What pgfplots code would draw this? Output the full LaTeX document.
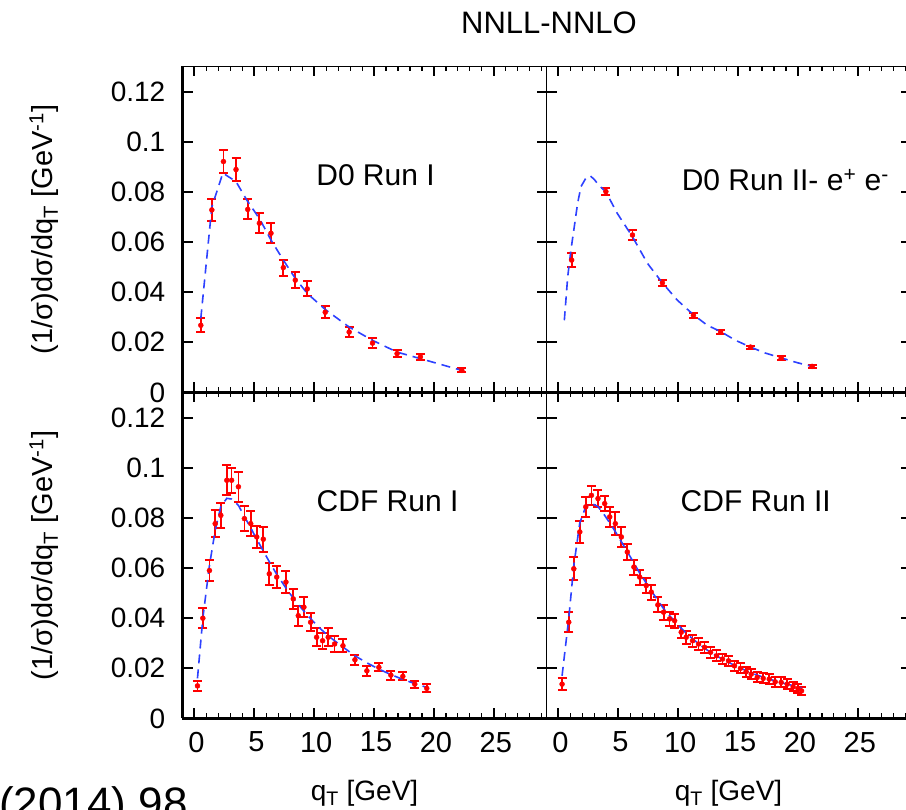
\documentclass[border=0pt]{standalone}
\usepackage{fontspec}
\setmainfont{Liberation Sans}
\usepackage{pgfplots}
\pgfplotsset{compat=1.18}
\usepackage{pgfplotstable}

\definecolor{dataRed}{RGB}{255,0,0}
\definecolor{curveBlue}{RGB}{45,65,255}

% ---------------- D0 Run I ----------------
\pgfplotstableread{
x y e
0.53 0.0268 0.0028
1.45 0.0728 0.0044
2.42 0.0921 0.0046
3.47 0.0889 0.0047
4.45 0.0730 0.0040
5.42 0.0675 0.0040
6.39 0.0635 0.0040
7.42 0.0498 0.0032
8.42 0.0448 0.0032
9.42 0.0413 0.0030
10.92 0.0320 0.0023
12.92 0.0241 0.0020
14.87 0.0197 0.0020
16.92 0.0155 0.0015
18.87 0.0142 0.0012
22.33 0.0088 0.0008
}\dzeroIdata
\pgfplotstableread{
x y
0.53 0.0296
1.45 0.0740
2.37 0.0875
3.47 0.0841
4.36 0.0768
5.47 0.0690
6.39 0.0608
7.42 0.0528
8.42 0.0455
9.42 0.0395
10.92 0.0331
12.92 0.0261
14.87 0.0208
16.92 0.0161
18.87 0.0135
22.33 0.0088
}\dzeroIth

% ---------------- D0 Run II e+e- ----------------
\pgfplotstableread{
x y e
1.10 0.0528 0.0027
3.96 0.0801 0.0013
6.18 0.0628 0.0020
8.68 0.0437 0.0012
11.27 0.0308 0.0010
13.54 0.0241 0.0007
16.04 0.0181 0.0006
18.60 0.0137 0.0007
21.18 0.0104 0.0005
}\dzeroIIdata
\pgfplotstableread{
x y
0.49 0.0288
0.77 0.0461
1.04 0.0568
1.32 0.0661
1.60 0.0755
1.88 0.0821
2.29 0.0855
2.65 0.0864
2.98 0.0850
3.40 0.0825
3.96 0.0800
4.90 0.0715
6.18 0.0621
7.43 0.0515
8.68 0.0437
9.93 0.0368
11.27 0.0310
12.43 0.0268
13.54 0.0243
14.79 0.0208
16.04 0.0181
17.29 0.0157
18.60 0.0138
19.93 0.0119
21.18 0.0104
}\dzeroIIth

% ---------------- CDF Run I ----------------
\pgfplotstableread{
x y e
0.25 0.0130 0.0020
0.70 0.0400 0.0040
1.25 0.0590 0.0043
1.73 0.0777 0.0055
2.20 0.0810 0.0050
2.70 0.0950 0.0060
3.10 0.0950 0.0050
3.67 0.0924 0.0060
4.17 0.0797 0.0050
4.70 0.0777 0.0050
5.20 0.0724 0.0045
5.75 0.0715 0.0050
6.25 0.0577 0.0045
6.87 0.0564 0.0045
7.64 0.0544 0.0045
8.25 0.0477 0.0040
8.67 0.0410 0.0040
9.14 0.0444 0.0040
9.70 0.0384 0.0035
10.20 0.0324 0.0035
10.70 0.0310 0.0032
11.17 0.0324 0.0035
11.70 0.0297 0.0030
12.40 0.0290 0.0025
13.40 0.0234 0.0020
14.40 0.0190 0.0020
15.40 0.0204 0.0016
16.40 0.0173 0.0018
17.40 0.0168 0.0016
18.40 0.0137 0.0014
19.40 0.0120 0.0016
}\cdfIdata
\pgfplotstableread{
x y
0.25 0.0160
0.70 0.0400
1.25 0.0610
1.73 0.0750
2.20 0.0845
2.70 0.0878
3.10 0.0875
3.67 0.0850
4.17 0.0805
4.70 0.0760
5.20 0.0715
5.75 0.0668
6.25 0.0625
6.87 0.0575
7.64 0.0520
8.25 0.0480
8.67 0.0455
9.14 0.0428
9.70 0.0398
10.20 0.0373
10.70 0.0350
11.17 0.0330
11.70 0.0310
12.40 0.0285
13.40 0.0250
14.40 0.0222
15.40 0.0197
16.40 0.0175
17.40 0.0156
18.40 0.0139
19.40 0.0124
}\cdfIth

% ---------------- CDF Run II ----------------
\pgfplotstableread{
x y e
0.30 0.0137 0.0025
0.86 0.0384 0.0040
1.28 0.0597 0.0045
1.78 0.0744 0.0045
2.28 0.0844 0.0040
2.75 0.0890 0.0037
3.30 0.0877 0.0035
3.86 0.0857 0.0030
4.28 0.0804 0.0040
4.75 0.0777 0.0045
5.25 0.0724 0.0040
5.75 0.0664 0.0030
6.30 0.0604 0.0030
6.78 0.0564 0.0030
7.33 0.0530 0.0030
7.75 0.0504 0.0030
8.30 0.0453 0.0030
8.78 0.0424 0.0030
9.28 0.0397 0.0028
9.70 0.0390 0.0028
10.25 0.0344 0.0025
10.67 0.0324 0.0025
11.20 0.0310 0.0024
11.70 0.0297 0.0022
12.20 0.0284 0.0022
12.70 0.0264 0.0022
13.20 0.0250 0.0022
13.70 0.0237 0.0021
14.20 0.0230 0.0021
14.70 0.0210 0.0020
15.20 0.0200 0.0020
15.67 0.0186 0.0020
16.10 0.0177 0.0020
16.60 0.0164 0.0020
17.10 0.0160 0.0020
17.60 0.0157 0.0020
18.10 0.0146 0.0020
18.60 0.0144 0.0020
19.10 0.0137 0.0020
19.60 0.0126 0.0018
20.00 0.0120 0.0018
20.30 0.0110 0.0016
}\cdfIIdata
\pgfplotstableread{
x y
0.30 0.0170
0.86 0.0400
1.28 0.0610
1.78 0.0780
2.28 0.0845
2.75 0.0858
3.30 0.0845
3.86 0.0810
4.28 0.0780
4.75 0.0745
5.25 0.0705
5.75 0.0665
6.30 0.0620
6.78 0.0580
7.33 0.0540
7.75 0.0510
8.30 0.0470
8.78 0.0438
9.28 0.0410
9.70 0.0388
10.25 0.0360
10.67 0.0340
11.20 0.0318
11.70 0.0298
12.20 0.0280
12.70 0.0264
13.20 0.0250
13.70 0.0236
14.20 0.0224
14.70 0.0212
15.20 0.0201
15.67 0.0191
16.10 0.0182
16.60 0.0173
17.10 0.0165
17.60 0.0157
18.10 0.0150
18.60 0.0143
19.10 0.0137
19.60 0.0131
20.00 0.0126
20.30 0.0122
}\cdfIIth

\pgfplotsset{
  panel/.style={
    scale only axis, width=364pt, height=326pt,
    xmin=-1, xmax=29.4, ymin=0, ymax=0.13,
    xtick={0,5,...,25}, minor xtick={0,1,...,29},
    ytick={0,0.02,0.04,0.06,0.08,0.1,0.12},
    tick align=inside,
    major tick length=10pt, minor tick length=5pt,
    major tick style={line width=2pt, black},
    minor tick style={line width=1.2pt, black},
    axis line style={line width=1.2pt},
    scaled y ticks=false, scaled x ticks=false,
    /pgf/number format/assume math mode=true,
    yticklabel style={/pgf/number format/fixed, font=\fontsize{28pt}{31pt}\selectfont, inner sep=1pt, xshift=-16pt},
    xticklabel style={font=\fontsize{29pt}{32pt}\selectfont, yshift=-10pt, xshift=2pt},
    clip=false,
  },
  data/.style={only marks, mark=*, mark size=2.5pt, color=dataRed,
    mark options={fill=dataRed, draw=dataRed, solid},
    error bars/.cd, y dir=both, y explicit,
    error bar style={line width=1.8pt, color=dataRed, solid},
    error mark options={rotate=90, mark size=4.5pt, line width=2pt, color=dataRed, solid}},
  theory/.style={no marks, color=curveBlue, line width=1.6pt, dash pattern=on 9pt off 6pt},
}
\tikzset{lab/.style={anchor=west, font=\fontsize{30pt}{34pt}\selectfont}}

\begin{document}
\begin{tikzpicture}
\useasboundingbox (0pt,0pt) rectangle (906pt,810pt);

% top left
\begin{axis}[panel, at={(182.5pt,417.5pt)}, anchor=south west, xticklabels={}]
  \addplot[data] table[x=x, y=y, y error=e] {\dzeroIdata};
  \addplot[theory] table[x=x, y=y] {\dzeroIth};
  \node[lab] at (rel axis cs:0.358,0.668) {D0 Run I};
  \draw[line width=2.6pt] (rel axis cs:0,0) -- (rel axis cs:0,1);
  \draw[line width=2.6pt] (rel axis cs:0,0) -- (rel axis cs:1,0);
\end{axis}

% top right
\begin{axis}[panel, at={(546.5pt,417.5pt)}, anchor=south west, xticklabels={}, yticklabels={}]
  \addplot[data] table[x=x, y=y, y error=e] {\dzeroIIdata};
  \addplot[theory] table[x=x, y=y] {\dzeroIIth};
  \node[lab] at (rel axis cs:0.362,0.652) {D0 Run II- e\textsuperscript{+} e\textsuperscript{-}};
  \draw[line width=2.6pt] (rel axis cs:0,0) -- (rel axis cs:1,0);
\end{axis}

% bottom left
\begin{axis}[panel, at={(182.5pt,91.5pt)}, anchor=south west]
  \addplot[data] table[x=x, y=y, y error=e] {\cdfIdata};
  \addplot[theory] table[x=x, y=y] {\cdfIth};
  \node[lab] at (rel axis cs:0.359,0.667) {CDF Run I};
  \draw[line width=2.6pt] (rel axis cs:0,0) -- (rel axis cs:0,1);
  \draw[line width=2.6pt] (rel axis cs:0,0) -- (rel axis cs:1,0);
\end{axis}

% bottom right
\begin{axis}[panel, at={(546.5pt,91.5pt)}, anchor=south west, yticklabels={}]
  \addplot[data] table[x=x, y=y, y error=e] {\cdfIIdata};
  \addplot[theory] table[x=x, y=y] {\cdfIIth};
  \node[lab] at (rel axis cs:0.359,0.667) {CDF Run II};
  \draw[line width=2.6pt] (rel axis cs:0,0) -- (rel axis cs:1,0);
\end{axis}

% title and labels
\node[font=\fontsize{31pt}{35pt}\selectfont] at (549pt,787.5pt) {NNLL-NNLO};
\node[rotate=90, font=\fontsize{29pt}{33pt}\selectfont] at (44pt,580.5pt) {(1/σ)dσ/dq\textsubscript{T} [GeV\textsuperscript{-1}]};
\node[rotate=90, font=\fontsize{29pt}{33pt}\selectfont] at (44pt,254.5pt) {(1/σ)dσ/dq\textsubscript{T} [GeV\textsuperscript{-1}]};
\node[anchor=base, font=\fontsize{28pt}{32pt}\selectfont] at (364.5pt,9pt) {q\textsubscript{T} [GeV]};
\node[anchor=base, font=\fontsize{28pt}{32pt}\selectfont] at (728.5pt,9pt) {q\textsubscript{T} [GeV]};
\node[anchor=base west, inner sep=0pt, font=\fontsize{44pt}{48pt}\selectfont] at (-1pt,-9pt) {(2014) 98};
\end{tikzpicture}
\end{document}
